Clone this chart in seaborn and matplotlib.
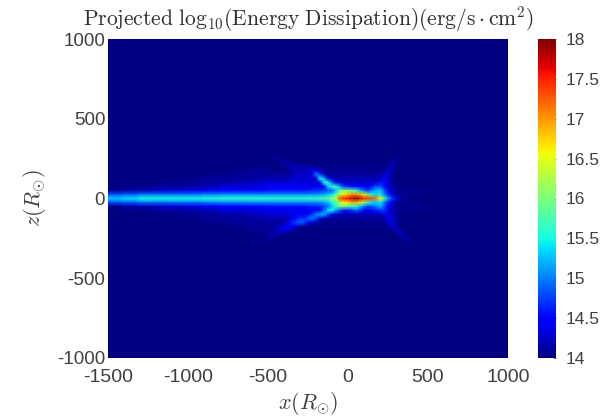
import numpy as np
import pandas as pd
import matplotlib
matplotlib.use("Agg")
import matplotlib.pyplot as plt
import seaborn as sns

# grid nodes, one every 25 R_sun
x_nodes = list(range(-1500, 1025, 25))
z_nodes = list(range(1000, -1025, -25))
floor_value = 14.0

# rows, each has 10 coarse values (x -1500..-525, 100 wide)
# and 40 fine values (x -500..475, 25 wide)
row_p300 = [14]*10 + [14]*40
row_p275 = [14]*10 + [14]*33 + [14.05] + [14]*6
row_p250 = [14]*10 + [14,14.1,14.1,14.1] + [14]*28 + [14.1] + [14]*7
row_p225 = [14]*10 + [14,14,14,14.1,14.15,14.15,14.1] + [14]*24 + [14.15,14.1] + [14]*7
row_p200 = [14]*9 + [14.05] + [14]*5 + [14.15]*6 + [14.05]*19 + [14.1,14.2,14.05] + [14]*7
row_p175 = [14,14,14,14,14,14,14,14,14.05,14.1] + [14.05]*6 + [14.2]*5 + [14.5,14.3,14.2] + [14.05]*16 + [14.25,14.15,14.05] + [14]*7
row_p150 = [14,14,14,14,14,14,14.05,14.05,14.1,14.1] + [14.1]*7 + [14.25]*5 + [15.0,14.7,14.2] + [14.1]*14 + [14.3,14.3,14.1] + [14]*8
row_p125 = [14,14,14,14,14.05,14.05,14.1,14.1,14.1,14.15] + [14.15]*6 + [14.3]*7 + [15.5,15.2,14.5] + [14.2]*13 + [14.4,14.2,14.05] + [14]*8
row_p100 = [14,14,14,14.05,14.05,14.1,14.1,14.15,14.2,14.25] + [14.3]*14 + [15.6,15.5,14.9,14.4,14.3] + [14.25]*9 + [14.55,14.55,14.3,14.1,14.05] + [14]*7
row_p075 = [14,14.05,14.05,14.1,14.1,14.15,14.2,14.3,14.3,14.35] + [14.4]*15 + [15.3,15.7,15.6,15.1,14.7,14.6,14.5,14.5,14.45,14.4,14.4,14.6,14.8,14.8,14.5,14.3,14.1,14.05] + [14]*7
row_p050 = [14.05,14.15,14.2,14.25,14.3,14.35,14.4,14.45,14.45,14.5] + [14.55]*10 + [14.6,14.65,14.65,14.7,14.75,14.85,14.9,15.3,15.9,16.0,15.9,15.9,15.6,15.2,14.9,14.7,15.0,15.2,15.3,14.9,14.5,14.2,14.1] + [14.05]*7
row_p025 = [14.8,14.85,14.95,14.95,14.95,14.95,15.0,15.05,15.05,15.05] + [15.05]*10 + [15.05,15.05,15.05,15.1,15.15,15.25,15.4,15.8,16.3,16.6,16.8,17.0,17.0,16.8,16.4,15.9,15.5,15.3,15.4,15.0,14.6,14.3,14.1] + [14.05]*7
row_0000 = [15.3,15.4,15.5,15.5,15.5,15.5,15.55,15.6,15.6,15.6] + [15.6]*10 + [15.65,15.65,15.7,15.7,15.75,15.85,16.0,16.4,17.3,17.5,17.6,17.8,18.0,17.8,17.5,17.4,17.3,17.1,16.6,15.8,15.2,14.7,14.4,14.2,14.1] + [14]*5
row_m025 = [14.8,14.85,14.95,14.95,14.95,14.95,15.0,15.05,15.05,15.05] + [15.05]*10 + [15.05,15.05,15.05,15.1,15.15,15.25,15.5,15.8,16.3,16.6,16.7,16.9,16.9,16.7,16.2,15.7,15.4,15.3,15.4,15.0,14.6,14.3,14.1] + [14.05]*7
row_m050 = [14.05,14.15,14.2,14.25,14.3,14.35,14.4,14.45,14.45,14.5] + [14.55]*10 + [14.6,14.65,14.65,14.7,14.8,14.9,15.3,15.7,16.0,16.0,15.8,15.7,15.6,15.3,15.0,14.8,14.9,15.0,15.2,14.9,14.5,14.3,14.1] + [14.05]*7
row_m075 = [14,14.05,14.05,14.1,14.1,14.15,14.2,14.3,14.3,14.35] + [14.4]*14 + [14.9,15.4,15.5,15.1,14.8,14.6,14.6,14.7,14.9,14.7,14.4,14.4,14.5,14.6,14.7,14.7,14.4,14.2,14.1] + [14.05]*7
row_m100 = [14,14,14,14.05,14.05,14.1,14.1,14.15,14.2,14.25] + [14.3]*6 + [14.4]*5 + [14.7,15.0,15.2,15.2,14.8,14.4,14.3] + [14.2]*11 + [14.5,14.4,14.2,14.1,14.05] + [14]*6
row_m125 = [14,14,14,14,14.05,14.05,14.1,14.1,14.1,14.15] + [14.2]*6 + [14.4,14.5,14.7,14.7,14.9,15.0,14.8,14.4,14.2] + [14.1]*15 + [14.4,14.3,14.1,14.05] + [14]*6
row_m150 = [14,14,14,14,14,14,14.05,14.05,14.1,14.1] + [14.1]*5 + [14.4,14.6,14.8,14.9,14.8,14.5,14.3,14.15] + [14.05]*17 + [14.3,14.3,14.15,14.05] + [14]*6
row_m175 = [14,14,14,14,14,14,14,14.05,14.05,14.1] + [14.1]*3 + [14.3,14.5,14.5,14.4,14.3,14.15] + [14.05]*22 + [14.3,14.2] + [14]*7
row_m200 = [14,14,14,14,14,14,14,14,14.05,14.05] + [14.05,14.1,14.2,14.3,14.3,14.3,14.15] + [14.02]*25 + [14.25,14.15] + [14]*6
row_m225 = [14]*9 + [14.05] + [14.15,14.15,14.15,14.15,14.05] + [14]*28 + [14.22,14.1] + [14]*5
row_m250 = [14]*10 + [14.1,14.1,14.05] + [14]*31 + [14.18,14.05] + [14]*4
row_m275 = [14]*9 + [14.1] + [14.05] + [14]*34 + [14.1] + [14]*4
row_m300 = [14]*10 + [14]*40

typed_rows = [row_p300, row_p275, row_p250, row_p225, row_p200, row_p175, row_p150,
              row_p125, row_p100, row_p075, row_p050, row_p025, row_0000, row_m025,
              row_m050, row_m075, row_m100, row_m125, row_m150, row_m175, row_m200,
              row_m225, row_m250, row_m275, row_m300]
typed_z = list(range(300, -325, -25))

x_ticks = [-1500, -1000, -500, 0, 500, 1000]
z_ticks = [1000, 500, 0, -500, -1000]
cbar_ticks = [14, 14.5, 15, 15.5, 16, 16.5, 17, 17.5, 18]
cbar_labels = ["14", "14.5", "15", "15.5", "16", "16.5", "17", "17.5", "18"]

# build the table, everything outside the typed rows stays at the colour floor
grid = np.full((len(z_nodes), len(x_nodes)), floor_value)
for z, row in zip(typed_z, typed_rows):
    row = np.array(row, dtype=float)
    wide = np.concatenate([np.repeat(row[:10], 4), row[10:50]])
    grid[z_nodes.index(z), :80] = wide
df = pd.DataFrame(grid, index=z_nodes, columns=x_nodes)

sns.set_theme(style="white")
plt.rcParams["font.family"] = ["Liberation Sans", "DejaVu Sans"]
plt.rcParams["mathtext.fontset"] = "cm"

W, H = 613, 418
fig = plt.figure(figsize=(W / 100, H / 100), dpi=100)
ax = fig.add_axes([108 / W, (H - 358) / H, 400 / W, 319 / H])
cax = fig.add_axes([538 / W, (H - 358) / H, 18 / W, 319 / H])

sns.heatmap(df, ax=ax, cbar_ax=cax, cmap="jet", vmin=14, vmax=18,
            xticklabels=False, yticklabels=False, shading="gouraud")

# gouraud puts values on the nodes, so the limits run node to node
ax.set_xlim(0, len(x_nodes) - 1)
ax.set_ylim(len(z_nodes) - 1, 0)
ax.set_xticks([x_nodes.index(v) for v in x_ticks])
ax.set_xticklabels([str(v) for v in x_ticks], rotation=0)
ax.set_yticks([z_nodes.index(v) for v in z_ticks])
ax.set_yticklabels([str(v) for v in z_ticks], rotation=0)

grey = "#404040"
ax.tick_params(axis="x", length=0, pad=8, labelsize=14, labelcolor=grey)
ax.tick_params(axis="y", length=0, pad=2, labelsize=13.5, labelcolor=grey)
ax.set_xlabel(r"$x(R_{\odot})$", fontsize=16, color=grey)
ax.set_ylabel(r"$z(R_{\odot})$", fontsize=16, color=grey)
ax.xaxis.set_label_coords(0.5, -0.1)
ax.yaxis.set_label_coords(-0.15, 0.5)
ax.set_title(r"$\mathrm{Projected\ log_{10}(Energy\ Dissipation)(erg/s\cdot cm^{2})}$",
             fontsize=15.5, color="#303030", pad=10)

cax.set_yticks(cbar_ticks)
cax.set_yticklabels(cbar_labels)
cax.tick_params(axis="y", length=2, direction="in", right=True, left=False,
                labelright=True, labelleft=False, labelsize=12.5, labelcolor=grey,
                color=grey, width=0.5, pad=7)

fig.savefig("out.png", dpi=100)
plt.close(fig)
